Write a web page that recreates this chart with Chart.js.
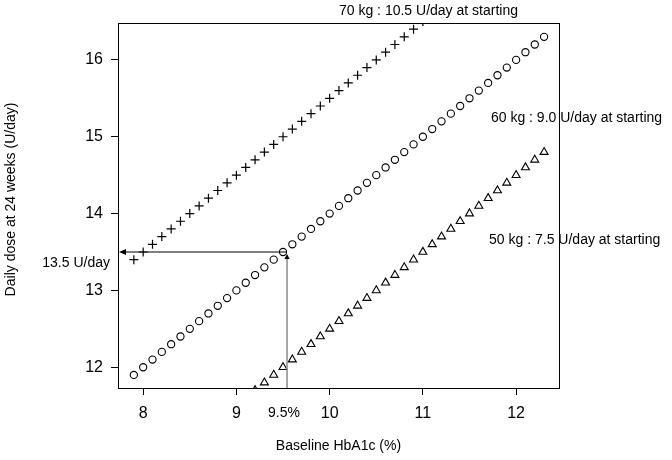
<!DOCTYPE html>
<html>
<head>
<meta charset="utf-8">
<script src="https://cdn.jsdelivr.net/npm/chart.js@4.4.1/dist/chart.umd.min.js"></script>
<style>
  html, body { margin: 0; padding: 0; background: #fff; }
  #wrap { width: 672px; height: 460px; }
</style>
</head>
<body>
<div id="wrap"><canvas id="doseChart" width="672" height="460"></canvas></div>
<script>
// baseline HbA1c (%) grid shared by the three weight groups
const hba1c = [7.9, 8.0, 8.1, 8.2, 8.3, 8.4, 8.5, 8.6, 8.7, 8.8, 8.9, 9.0, 9.1, 9.2, 9.3,
  9.4, 9.5, 9.6, 9.7, 9.8, 9.9, 10.0, 10.1, 10.2, 10.3, 10.4, 10.5, 10.6, 10.7, 10.8,
  10.9, 11.0, 11.1, 11.2, 11.3, 11.4, 11.5, 11.6, 11.7, 11.8, 11.9, 12.0, 12.1, 12.2, 12.3];

// predicted daily dose at 24 weeks (U/day)
const dose70kg = [13.4, 13.5, 13.6, 13.7, 13.8, 13.9, 14.0, 14.1, 14.2, 14.3, 14.4, 14.5, 14.6, 14.7, 14.8,
  14.9, 15.0, 15.1, 15.2, 15.3, 15.4, 15.5, 15.6, 15.7, 15.8, 15.9, 16.0, 16.1, 16.2, 16.3,
  16.4, 16.5, 16.6, 16.7, 16.8, 16.9, 17.0, 17.1, 17.2, 17.3, 17.4, 17.5, 17.6, 17.7, 17.8];
const dose60kg = [11.9, 12.0, 12.1, 12.2, 12.3, 12.4, 12.5, 12.6, 12.7, 12.8, 12.9, 13.0, 13.1, 13.2, 13.3,
  13.4, 13.5, 13.6, 13.7, 13.8, 13.9, 14.0, 14.1, 14.2, 14.3, 14.4, 14.5, 14.6, 14.7, 14.8,
  14.9, 15.0, 15.1, 15.2, 15.3, 15.4, 15.5, 15.6, 15.7, 15.8, 15.9, 16.0, 16.1, 16.2, 16.3];
const dose50kg = [10.4, 10.5, 10.6, 10.7, 10.8, 10.9, 11.0, 11.1, 11.2, 11.3, 11.4, 11.5, 11.6, 11.7, 11.8,
  11.9, 12.0, 12.1, 12.2, 12.3, 12.4, 12.5, 12.6, 12.7, 12.8, 12.9, 13.0, 13.1, 13.2, 13.3,
  13.4, 13.5, 13.6, 13.7, 13.8, 13.9, 14.0, 14.1, 14.2, 14.3, 14.4, 14.5, 14.6, 14.7, 14.8];

const seriesLabels = ['70 kg : 10.5 U/day at starting', '60 kg : 9.0 U/day at starting', '50 kg : 7.5 U/day at starting'];
const xTicks = [8, 9, 10, 11, 12];
const yTicks = [12, 13, 14, 15, 16];
const xTitle = 'Baseline HbA1c (%)';
const yTitle = 'Daily dose at 24 weeks (U/day)';

// worked example: 60 kg patient with HbA1c 9.5%
const exampleHbA1c = 9.5;
const exampleDose = 13.5;
const exampleXLabel = '9.5%';
const exampleYLabel = '13.5 U/day';

const FONT = '"Liberation Sans", Arial, Helvetica, sans-serif';

function toPoints(values) {
  return hba1c.map((x, i) => ({ x: x, y: values[i] }));
}

/**
 * Draws the closed plot box, the example arrows and the free text labels.
 */
const annotationPlugin = {
  id: 'annotations',
  afterDatasetsDraw(chart) {
    const ctx = chart.ctx;
    const area = chart.chartArea;
    const xs = chart.scales.x;
    const ys = chart.scales.y;
    ctx.save();

    // box round the plot
    ctx.strokeStyle = '#000';
    ctx.lineWidth = 1;
    ctx.strokeRect(Math.round(area.left) + 0.5, Math.round(area.top) + 0.5,
      Math.round(area.right - area.left), Math.round(area.bottom - area.top));

    const px = xs.getPixelForValue(exampleHbA1c) + 4;
    const py = ys.getPixelForValue(exampleDose);

    // vertical grey line up from the x axis
    ctx.strokeStyle = '#8a8a8a';
    ctx.lineWidth = 1.5;
    ctx.beginPath();
    ctx.moveTo(px, area.bottom);
    ctx.lineTo(px, py + 6);
    ctx.stroke();
    ctx.fillStyle = '#000';
    ctx.beginPath();
    ctx.moveTo(px, py + 2);
    ctx.lineTo(px - 2.6, py + 7);
    ctx.lineTo(px + 2.6, py + 7);
    ctx.closePath();
    ctx.fill();

    // horizontal black arrow to the y axis
    ctx.strokeStyle = '#000';
    ctx.lineWidth = 1.2;
    ctx.beginPath();
    ctx.moveTo(px, py);
    ctx.lineTo(area.left + 6, py);
    ctx.stroke();
    ctx.beginPath();
    ctx.moveTo(area.left + 1, py);
    ctx.lineTo(area.left + 8, py - 3);
    ctx.lineTo(area.left + 8, py + 3);
    ctx.closePath();
    ctx.fill();

    // text labels
    ctx.fillStyle = '#000';
    ctx.font = '14px ' + FONT;
    ctx.textBaseline = 'middle';
    ctx.textAlign = 'right';
    ctx.fillText(exampleYLabel, area.left - 8, py + 11);
    ctx.textAlign = 'center';
    ctx.fillText(exampleXLabel, xs.getPixelForValue(exampleHbA1c) + 1, area.bottom + 25);

    ctx.textAlign = 'left';
    ctx.fillText(seriesLabels[0], xs.getPixelForValue(10.1), ys.getPixelForValue(16.63));
    ctx.fillText(seriesLabels[1], xs.getPixelForValue(11.73), ys.getPixelForValue(15.24));
    ctx.fillText(seriesLabels[2], xs.getPixelForValue(11.71), ys.getPixelForValue(13.65));

    // y axis title, rotated
    ctx.save();
    ctx.translate(11, (area.top + area.bottom) / 2 - 6);
    ctx.rotate(-Math.PI / 2);
    ctx.textAlign = 'center';
    ctx.fillText(yTitle, 0, 0);
    ctx.restore();

    ctx.restore();
  }
};

function initChart() {
  const ctx = document.getElementById('doseChart').getContext('2d');
  const markerBase = { borderColor: '#000', backgroundColor: 'rgba(0,0,0,0)', clip: 0, showLine: false };
  new Chart(ctx, {
    type: 'scatter',
    data: {
      datasets: [
        Object.assign({ label: seriesLabels[0], data: toPoints(dose70kg), pointStyle: 'cross', pointRadius: 4.5, borderWidth: 1.2 }, markerBase),
        Object.assign({ label: seriesLabels[1], data: toPoints(dose60kg), pointStyle: 'circle', pointRadius: 3.6, borderWidth: 1.1 }, markerBase),
        Object.assign({ label: seriesLabels[2], data: toPoints(dose50kg), pointStyle: 'triangle', pointRadius: 4.6, borderWidth: 1.1 }, markerBase),
      ],
    },
    options: {
      responsive: false,
      animation: false,
      layout: { padding: { top: 23, right: 113, bottom: 0, left: 0 } },
      plugins: {
        legend: { display: false },
        tooltip: { enabled: false },
      },
      scales: {
        x: {
          type: 'linear',
          min: 7.73,
          max: 12.46,
          afterFit(scale) { scale.height = 72; },
          afterBuildTicks(scale) { scale.ticks = xTicks.map((v) => ({ value: v })); },
          grid: { drawOnChartArea: false, tickLength: 7, color: '#000' },
          border: { color: '#000', width: 1 },
          ticks: { color: '#000', font: { family: FONT, size: 16 }, padding: 9, maxRotation: 0 },
          title: { display: true, text: xTitle, color: '#000', font: { family: FONT, size: 14 }, padding: { top: 0, bottom: 5 } },
        },
        y: {
          type: 'linear',
          min: 11.73,
          max: 16.48,
          afterFit(scale) { scale.width = 118; },
          afterBuildTicks(scale) { scale.ticks = yTicks.map((v) => ({ value: v })); },
          grid: { drawOnChartArea: false, tickLength: 7, color: '#000' },
          border: { color: '#000', width: 1 },
          ticks: { color: '#000', font: { family: FONT, size: 16 }, padding: 8 },
          title: { display: false, text: yTitle },
        },
      },
    },
    plugins: [annotationPlugin],
  });
}

document.addEventListener('DOMContentLoaded', initChart);
</script>
</body>
</html>
